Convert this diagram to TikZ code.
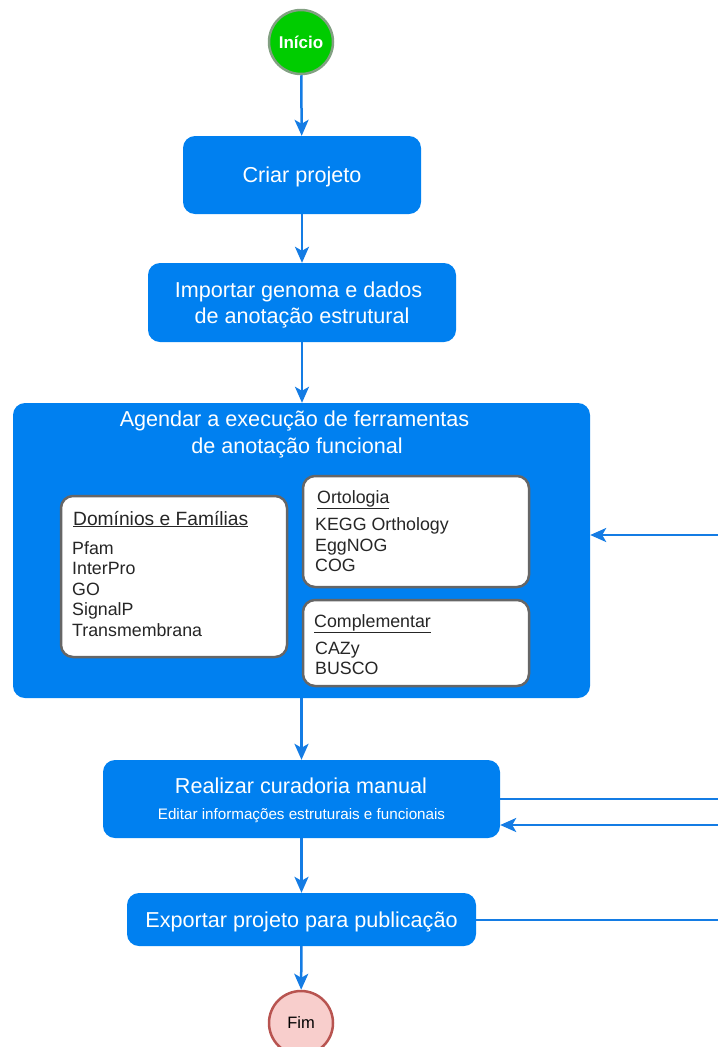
\documentclass[tikz,border=0pt]{standalone}
\usepackage{fontspec}
\setmainfont{Liberation Sans}
\usetikzlibrary{arrows.meta}
\definecolor{stepblue}{RGB}{0,128,240}
\definecolor{flowline}{RGB}{20,124,228}
\definecolor{startfill}{RGB}{0,204,0}
\definecolor{startedge}{RGB}{130,160,130}
\definecolor{endfill}{RGB}{248,206,204}
\definecolor{endedge}{RGB}{184,84,80}
\definecolor{groupedge}{RGB}{102,102,102}
\tikzset{
  stepbox/.style={draw=none, fill=stepblue, rounded corners=12pt, inner sep=0pt},
  groupbox/.style={draw=groupedge, line width=2.5pt, fill=white, rounded corners=12pt, inner sep=0pt},
  steptext/.style={text=white, font=\fontsize{21.6}{26}\selectfont, anchor=base, inner sep=0pt},
  subtext/.style={text=white, font=\fontsize{15.2}{18}\selectfont, anchor=base, inner sep=0pt},
  itemtext/.style={text=black!85, font=\fontsize{17.8}{21}\selectfont, anchor=base west, inner sep=0pt},
  flow/.style={draw=flowline, line width=2.5pt, -{Stealth[length=16pt,width=14pt,inset=4pt]}},
  flowplain/.style={draw=flowline, line width=2.5pt},
}
\begin{document}
\begin{tikzpicture}[x=1pt,y=-1pt]
\useasboundingbox (0,0) rectangle (718,1047);
\clip (0,0) rectangle (718,1047);

% start and end events
\node[circle, minimum size=64pt, inner sep=0pt, fill=startfill, draw=startedge, line width=2.5pt,
      text=white, font=\bfseries\fontsize{17}{20}\selectfont] (start) at (301,42) {Início};
\node[circle, minimum size=64pt, inner sep=0pt, fill=endfill, draw=endedge, line width=2.5pt,
      text=black, font=\fontsize{16.5}{19}\selectfont] (fim) at (301,1023) {Fim};

% process steps
\node[stepbox, minimum width=238pt, minimum height=78pt] (criar) at (302,175) {};
\node[steptext] (criarT) at (302,182.5) {Criar projeto};

\node[stepbox, minimum width=308pt, minimum height=79pt] (importar) at (302,302.5) {};
\node[steptext] (importarA) at (298.5,297.5) {Importar genoma e dados};
\node[steptext] (importarB) at (302,323.5) {de anotação estrutural};

\node[stepbox, minimum width=577pt, minimum height=295pt] (agendar) at (301.5,550.5) {};
\node[steptext] (agendarA) at (294.5,426.5) {Agendar a execução de ferramentas};
\node[steptext] (agendarB) at (297,453.5) {de anotação funcional};

\node[stepbox, minimum width=397pt, minimum height=78pt] (realizar) at (301.5,799) {};
\node[steptext] (realizarT) at (301,793.5) {Realizar curadoria manual};
\node[subtext] (realizarS) at (301.5,819.5) {Editar informações estruturais e funcionais};

\node[stepbox, minimum width=349pt, minimum height=53pt] (exportar) at (301.5,919.5) {};
\node[steptext] (exportarT) at (301.5,927.5) {Exportar projeto para publicação};

% tool groups inside the scheduling step
\node[groupbox, minimum width=226pt, minimum height=161pt] (dom) at (174,576.5) {};
\node[itemtext, font=\fontsize{19.2}{22}\selectfont] (domT) at (73,525) {\underline{Domínios e Famílias}};
\foreach \t/\y [count=\i] in {Pfam/554.5, InterPro/574.5, GO/595, SignalP/615, Transmembrana/636}
  \node[itemtext] (dom\i) at (72,\y) {\t};

\node[groupbox, minimum width=226pt, minimum height=111pt] (orto) at (416,531.5) {};
\node[itemtext] (ortoT) at (317,503.5) {\underline{Ortologia}};
\foreach \t/\y [count=\i] in {KEGG Orthology/530.5, EggNOG/551, COG/571}
  \node[itemtext] (orto\i) at (315,\y) {\t};

\node[groupbox, minimum width=226pt, minimum height=86pt] (comp) at (416,643) {};
\node[itemtext] (compT) at (314,627.5) {\underline{Complementar}};
\foreach \t/\y [count=\i] in {CAZy/654, BUSCO/674.5}
  \node[itemtext] (comp\i) at (315,\y) {\t};

% main flow
\draw[flow] (start) -- (criar);
\draw[flow] (criar) -- (importar);
\draw[flow] (importar.south) -- (importar.south |- agendar.north);
\draw[flow] (agendar.south -| realizar.north) -- (realizar.north);
\draw[flow] (realizar) -- (exportar);
\draw[flow] (exportar) -- (fim);

% side connections leaving the page edge
\coordinate (edgeA) at (718,535);
\coordinate (edgeB) at (718,799);
\coordinate (edgeC) at (718,825);
\coordinate (edgeD) at (718,920);
\draw[flow] (edgeA) -- (edgeA -| agendar.east);
\draw[flowplain] (realizar.east |- edgeB) -- (edgeB);
\draw[flow] (edgeC) -- (edgeC -| realizar.east);
\draw[flowplain] (exportar.east |- edgeD) -- (edgeD);
\end{tikzpicture}
\end{document}
